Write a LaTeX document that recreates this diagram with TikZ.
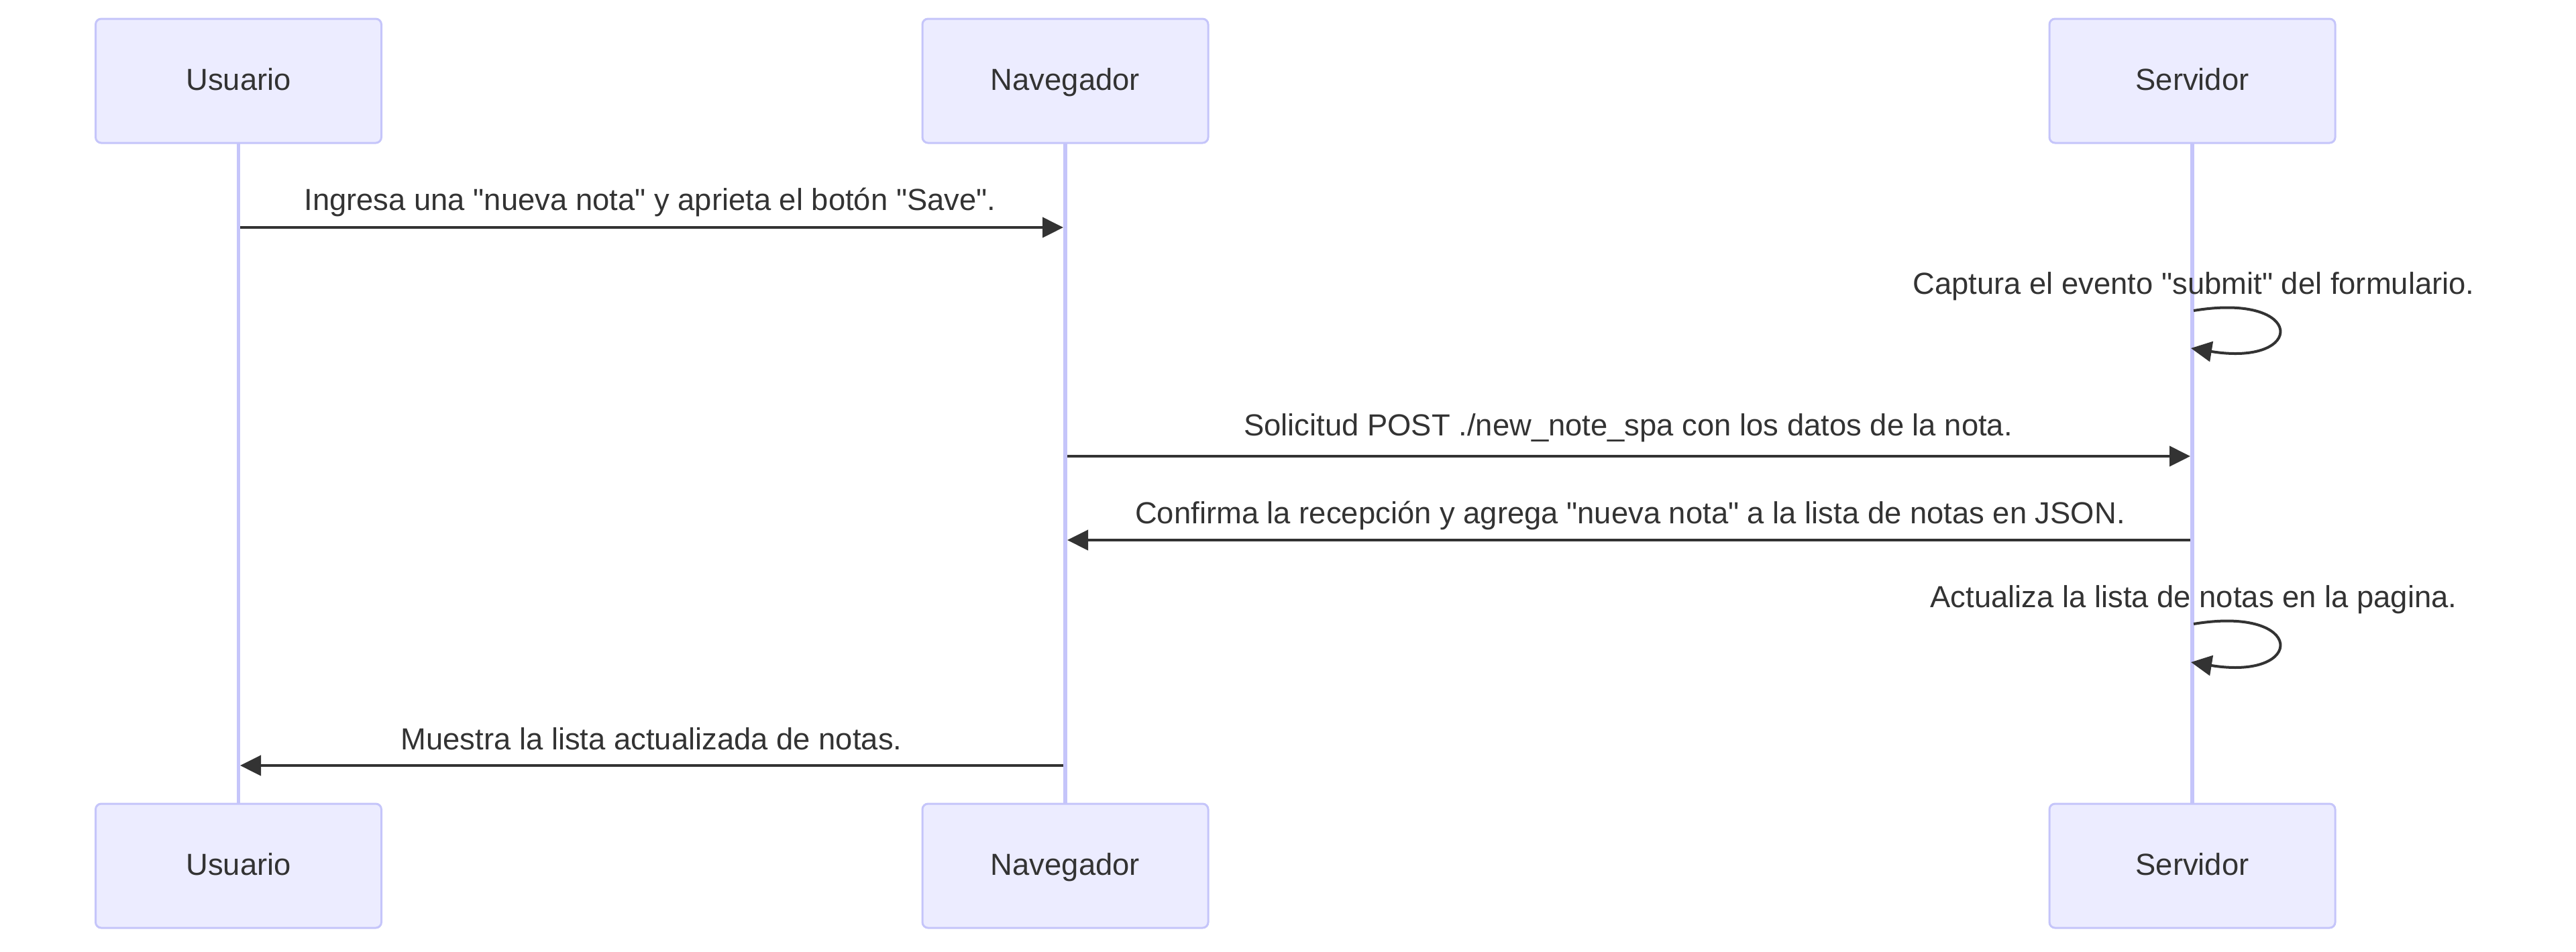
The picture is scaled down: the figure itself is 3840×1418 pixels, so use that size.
\documentclass[tikz,border=0pt]{standalone}
\usepackage{fontspec}
\newfontfamily\lsans{Liberation Sans}
\usetikzlibrary{arrows.meta}
\definecolor{actorfill}{HTML}{ECECFF}
\definecolor{actorline}{RGB}{197,197,250}
\definecolor{ink}{HTML}{333333}
\begin{document}
\begin{tikzpicture}[x=0.25pt,y=-0.25pt,
  font=\lsans\fontsize{11.35pt}{13pt}\selectfont,
  actor/.style={draw=actorline, fill=actorfill, line width=0.75pt, rounded corners=2.1pt,
    minimum width=106.5pt, minimum height=46.25pt, inner sep=0pt,
    text height=0.72em, text depth=0pt, text=ink},
  lifeline/.style={draw=actorline, line width=1.3pt},
  msg/.style={draw=ink, line width=1pt, -{Triangle[length=7.75pt,width=7.5pt]}},
  msglabel/.style={anchor=base, text=ink, inner sep=0pt}]
\useasboundingbox[fill=white] (0,0) rectangle (3840,1418);
% lifelines
\path[lifeline] (355.5,213) -- (355.5,1198);
\path[lifeline] (1588,213) -- (1588,1198);
\path[lifeline] (3268,213) -- (3268,1198);
% actors
\node[actor] (ut) at (355.5,120.5) {Usuario};
\node[actor] (nt) at (1588,120.5) {Navegador};
\node[actor] (st) at (3268,120.5) {Servidor};
\node[actor] (ub) at (355.5,1290.5) {Usuario};
\node[actor] (nb) at (1588,1290.5) {Navegador};
\node[actor] (sb) at (3268,1290.5) {Servidor};
% message 1
\coordinate (m1a) at (358,339);
\coordinate (m1b) at (1585,339);
\node[msglabel] (l1) at (969,313) {Ingresa una "nueva nota" y aprieta el botón "Save".};
\draw[msg] (m1a) -- (m1b);
% loop 1
\coordinate (s1a) at (3270,463);
\coordinate (s1b) at (3266,519);
\node[msglabel] (l2) at (3270,438) {Captura el evento "submit" del formulario.};
\draw[msg] (s1a) .. controls (3438,435) and (3438,547) .. (s1b);
% message 3
\coordinate (m3a) at (1591,680);
\coordinate (m3b) at (3265,680);
\node[msglabel] (l3) at (2427,649) {Solicitud POST ./new\_note\_spa con los datos de la nota.};
\draw[msg] (m3a) -- (m3b);
% message 4
\coordinate (m4a) at (3265,805);
\coordinate (m4b) at (1591,805);
\node[msglabel] (l4) at (2430,780) {Confirma la recepción y agrega "nueva nota" a la lista de notas en JSON.};
\draw[msg] (m4a) -- (m4b);
% loop 2
\coordinate (s2a) at (3270,930);
\coordinate (s2b) at (3266,987);
\node[msglabel] (l5) at (3270,905) {Actualiza la lista de notas en la pagina.};
\draw[msg] (s2a) .. controls (3438,902) and (3438,1015) .. (s2b);
% message 6
\coordinate (m6a) at (1585,1141);
\coordinate (m6b) at (358,1141);
\node[msglabel] (l6) at (971,1117) {Muestra la lista actualizada de notas.};
\draw[msg] (m6a) -- (m6b);
\end{tikzpicture}
\end{document}
